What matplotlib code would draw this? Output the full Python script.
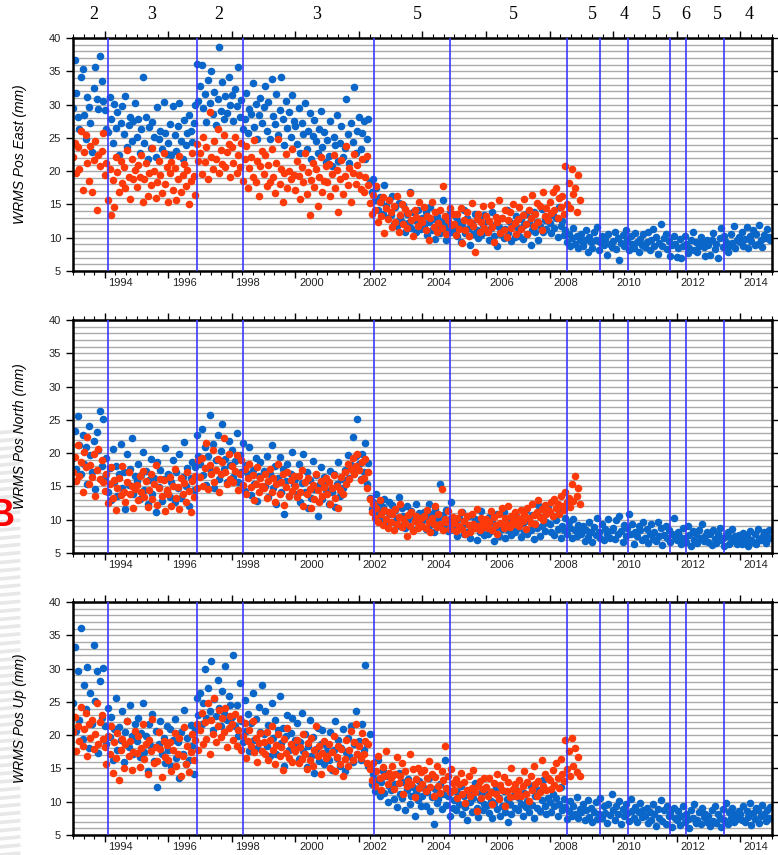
import numpy as np
import matplotlib
matplotlib.use("Agg")
import matplotlib.pyplot as plt
import matplotlib.transforms as mtransforms
from matplotlib.lines import Line2D

# one line per year (1993, 1994, ...), values in mm spread evenly across the year
EAST_BLUE = """
29.5 36.7 31.8 28.1 26.4 34.2 35.3 28.4 24.8 31.2 29.6 27.3 22.9 32.5 35.7 30.9 29.4 37.3 33.6 30.6
29.2 26.3 25.9 31.1 27.8 24.2 30.1 26.5 28.9 22.4 27.2 29.8 25.6 31.3 23.7 26.9 28.2 24.6 27.5 30.2
25.1 27.9 22.8 26.4 34.2 24.3 28.1 21.9 26.7 23.5 27.4 25.2 22.1 29.6 24.8 26.1 23.3 30.4 25.7 22.6
24.2 27.1 22.5 29.8 25.4 23.1 26.8 30.2 24.6 21.8 27.7 23.9 25.8 28.5 26.1 24.4 27.3 29.9 36.1 30.6
32.8 35.9 29.5 31.6 27.4 33.7 30.2 35.1 28.6 31.9 26.9 30.8 38.7 29.1 33.4 27.8 31.3 28.7 34.1 29.9
31.5 27.6 32.4 29.8 35.6 28.2 30.7 26.4 27.9 31.8 25.8 29.3 28.6 33.2 26.7 30.1 24.9 28.4 31.0 27.2
29.7 32.8 26.1 30.4 24.8 33.9 28.3 27.1 31.6 25.4 29.2 34.1 27.8 23.9 30.6 26.5 28.9 25.2 31.4 27.6
26.8 24.1 29.5 22.7 27.3 25.6 30.2 23.4 26.1 28.8 21.9 25.3 27.7 24.5 22.8 26.4 29.1 23.6 25.9 21.4
24.7 22.3 27.5 20.8 25.1 23.9 28.4 21.6 24.2 26.8 22.1 23.5 30.9 25.6 21.2 27.3 24.4 32.6 22.8 26.1
28.1 23.4 25.7 27.6 21.9 24.8 27.8 18.3 16.9 18.8 15.6 17.4 14.2 16.1 15.3 13.6 17.9 14.8 12.9 15.7
13.4 16.3 12.1 14.6 11.7 15.2 13.1 12.4 14.9 10.8 13.6 12.2 16.8 11.5 13.9 12.7 10.9 14.1 12.6 11.3
12.9 11.6 13.8 10.4 12.3 14.6 11.1 12.8 9.8 13.3 11.9 10.7 12.5 15.6 11.4 9.6 12.1 13.7 10.9 11.8
11.2 13.1 10.3 12.4 9.4 11.8 14.2 10.7 12.9 11.5 8.9 12.2 10.6 13.6 11.1 9.9 12.7 10.4 11.9 13.4
10.8 12.5 9.7 11.4 13.8 10.2 12.1 8.7 11.6 10.5 12.9 9.9 11.3 14.1 10.7 12.3 9.5 11.8 10.1 13.2
11.5 10.3 12.8 9.8 11.9 13.5 10.6 12.2 8.9 11.1 13.9 10.8 12.4 9.6 11.7 14.3 10.9 12.6 11.3 13.1
12.2 10.7 13.4 11.5 12.9 10.1 14.6 11.8 12.5 10.4 11.2 9.3 10.6 8.7 9.9 11.4 9.1 10.2 8.4 9.7
10.5 8.8 9.6 11.2 7.9 10.1 9.3 8.5 10.8 9.7 11.6 8.2 9.4 10.3 8.9 9.8 7.4 10.6 9.1 8.6
9.5 10.9 8.3 9.9 6.6 9.2 10.4 8.7 11.1 9.6 8.1 10.2 9.0 8.4 10.7 9.3 7.8 9.8 8.9 10.5
8.6 9.4 10.8 8.1 9.7 11.3 8.8 10.1 7.5 9.2 12.1 8.7 9.9 10.6 8.3 9.5 7.2 8.9 10.3 9.1
7.1 8.4 9.8 6.9 8.8 10.2 9.1 7.7 8.5 9.6 10.8 8.2 9.3 7.9 8.7 10.1 9.4 8.6 7.3 9.7
8.9 7.4 9.6 10.7 8.3 9.1 7.0 9.9 11.4 8.6 10.2 9.4 7.8 8.8 10.6 9.2 11.8 8.5 9.7 10.1
9.3 10.9 8.7 9.8 11.6 8.4 10.3 9.5 11.2 8.9 10.6 9.1 11.9 9.7 8.6 10.4 9.9 11.3 10.1 9.6
"""

EAST_RED = """
22.1 24.3 19.8 23.6 20.4 26.1 17.2 22.9 25.4 21.3 18.6 23.8 16.9 21.7 24.6 14.2 22.4 20.8 23.1 25.7
19.4 21.2 15.6 20.3 13.4 18.7 14.6 22.1 19.9 16.8 21.5 18.2 20.6 17.4 23.2 19.1 15.8 21.8 18.9 20.2
17.6 20.9 19.2 22.4 15.4 18.8 21.3 16.3 19.7 17.9 23.5 20.1 15.9 18.4 21.6 19.5 16.7 22.8 18.1 20.7
15.3 19.8 21.4 17.2 20.5 15.6 18.9 22.3 16.8 19.4 21.1 17.7 20.2 15.1 18.5 22.7 19.3 16.4 24.1 21.5
22.8 19.6 25.2 21.4 23.7 18.9 28.9 22.1 20.3 24.6 21.8 26.3 19.7 23.2 21.1 25.4 20.6 22.9 24.1 19.2
23.6 21.3 25.1 19.8 22.4 20.7 24.3 18.6 21.9 23.8 17.4 20.5 22.2 19.1 24.7 18.3 21.6 16.2 20.8 23.1
19.6 22.5 17.8 20.9 18.4 23.4 19.2 16.7 21.3 24.8 18.1 20.4 15.3 19.7 22.6 17.5 20.1 18.9 23.3 19.4
17.2 21.5 19.3 15.8 20.6 18.4 22.8 16.5 19.9 13.4 18.7 21.2 17.6 20.3 14.7 19.1 22.1 16.9 18.5 20.8
18.3 21.1 16.2 19.6 22.4 17.5 20.2 13.8 18.9 21.7 16.6 19.3 23.8 17.9 20.5 15.4 19.8 22.6 18.1 20.9
19.5 17.3 21.9 16.8 19.1 22.3 17.9 15.2 13.6 16.4 14.1 17.8 12.4 15.3 13.2 16.1 10.7 14.5 12.8 15.6
13.9 11.6 14.8 12.3 16.2 10.9 13.4 15.1 12.1 14.3 11.4 13.7 16.7 12.6 10.3 14.2 13.1 11.8 15.4 12.7
12.4 14.6 11.2 13.3 9.7 12.9 15.3 11.6 13.8 10.8 12.2 14.1 11.5 17.8 13.2 10.6 12.7 14.4 11.9 13.5
12.1 10.4 13.6 11.3 14.5 9.2 12.7 11.1 13.9 10.2 12.4 15.2 11.7 7.9 12.8 13.6 10.9 12.3 14.7 11.4
13.2 10.8 12.5 14.9 11.6 9.4 13.1 12.3 15.6 10.7 12.9 11.2 14.2 10.1 12.6 13.8 11.4 15.1 12.2 10.5
12.8 14.6 11.3 13.4 15.8 12.1 10.6 14.1 12.9 16.4 11.7 13.6 15.2 12.4 14.8 11.1 16.9 13.3 14.5 12.6
15.3 13.7 16.8 14.2 17.4 12.9 15.9 14.6 16.3 13.5 20.8 15.1 18.2 14.4 20.3 16.6 17.5 13.8 19.4 15.7
"""

NORTH_BLUE = """
19.2 23.4 17.6 25.6 21.3 16.8 22.7 18.4 20.9 15.3 24.1 19.7 17.2 21.8 14.6 23.2 20.4 26.3 18.1 25.1
16.4 19.3 14.2 17.8 12.9 20.6 15.7 18.1 13.6 16.9 21.4 14.8 17.2 11.6 19.8 15.2 17.6 22.3 13.9 16.5
15.8 18.4 13.1 16.7 20.2 14.5 17.3 12.4 15.9 19.1 13.8 16.2 11.1 18.7 14.9 17.5 12.8 16.1 20.8 14.3
16.9 13.4 15.6 18.9 12.6 17.1 14.7 19.8 13.2 16.4 21.7 15.1 17.8 12.1 16.3 18.6 14.4 17.9 22.8 19.6
18.4 23.6 16.7 20.9 15.2 19.5 25.8 17.3 21.4 14.8 18.9 22.7 16.1 20.3 24.4 17.6 19.1 15.7 21.9 18.2
20.5 16.4 18.8 23.1 15.6 19.7 17.1 21.6 14.3 18.2 16.8 20.9 13.7 17.5 15.4 19.3 12.8 16.6 18.7 14.9
17.3 15.1 19.6 13.4 16.8 21.2 14.7 18.1 12.3 16.2 19.4 14.1 17.6 10.9 15.8 18.3 13.6 16.9 20.1 15.4
16.1 13.8 18.4 12.7 15.5 19.8 14.2 17.1 11.8 15.9 13.3 18.8 14.6 16.7 10.6 15.2 17.9 13.1 16.4 14.5
15.6 12.4 17.3 14.1 16.8 11.9 15.3 18.6 13.5 16.1 14.8 17.4 15.9 19.7 16.3 18.2 22.4 17.1 19.5 25.2
18.3 16.1 19.8 17.2 21.6 15.4 18.5 13.2 11.6 12.7 10.8 13.9 11.4 12.3 10.2 11.9 13.1 9.8 11.2 12.6
10.9 12.2 9.6 11.5 10.3 13.4 9.1 11.8 10.6 8.7 12.1 9.9 10.8 11.3 8.4 10.1 12.4 9.5 11.0 10.4
9.8 11.1 8.6 10.5 12.3 9.2 10.9 8.1 11.6 9.7 10.2 15.3 8.9 10.7 9.4 11.4 8.3 10.1 12.6 9.0
8.5 9.7 7.6 10.3 8.9 11.2 7.9 9.4 8.2 10.6 7.3 9.1 8.7 10.1 6.9 9.6 8.1 11.3 8.8 7.7
9.2 7.8 10.4 8.3 9.7 6.8 8.9 10.8 7.5 9.3 8.6 11.1 7.2 9.9 8.4 10.2 7.7 9.0 8.1 10.6
8.7 10.1 7.4 9.5 8.2 11.4 7.9 9.8 8.5 10.7 7.1 9.3 8.8 12.2 7.6 9.1 10.4 8.3 9.6 11.7
9.4 8.1 10.6 7.7 9.9 8.6 11.2 7.3 9.1 8.4 10.3 7.9 9.6 8.8 7.2 10.1 8.5 7.6 9.2 8.1
7.9 9.1 6.8 8.5 7.4 9.7 8.2 6.6 8.9 7.7 10.3 8.1 7.2 9.4 6.9 8.6 7.8 10.1 7.3 8.4
8.8 7.1 9.9 7.8 10.6 8.3 6.7 9.2 7.5 8.7 10.8 7.9 9.4 6.4 8.2 7.6 9.1 8.5 7.0 9.7
7.3 8.6 6.5 7.9 9.3 7.1 8.2 6.8 9.6 7.5 8.8 6.2 7.7 9.1 7.2 8.4 6.6 7.8 10.2 7.4
6.9 8.1 7.4 6.3 8.7 7.2 6.6 9.1 7.7 6.1 8.3 7.0 7.9 6.5 8.5 7.3 9.4 6.8 7.6 8.2
6.7 7.8 6.2 8.4 7.1 6.5 7.9 8.8 6.9 7.3 6.0 7.6 8.1 6.4 7.2 8.6 6.8 7.5 6.3 7.7
7.2 6.4 8.0 6.8 7.5 6.1 8.3 7.0 6.6 7.8 6.3 8.6 7.1 6.9 7.4 8.2 6.5 7.6 8.4 7.3
"""

NORTH_RED = """
17.2 19.4 15.8 21.3 16.6 18.7 14.2 20.1 17.9 22.4 15.3 18.2 16.4 19.8 13.6 17.5 20.6 16.1 18.9 15.7
14.3 16.8 12.5 15.4 17.9 13.2 15.9 11.4 14.8 16.3 13.7 18.1 14.1 12.6 15.6 17.2 13.9 15.1 11.8 14.6
15.2 12.9 16.6 14.1 17.3 13.4 15.8 11.9 14.5 16.9 13.1 15.4 18.2 12.2 14.7 16.1 13.6 15.9 11.3 14.4
13.8 16.4 12.1 15.1 17.6 13.3 14.9 11.6 16.2 13.9 15.5 12.6 17.1 14.3 11.1 15.8 13.4 16.6 14.7 18.9
16.4 19.3 15.1 17.8 21.6 14.6 18.2 16.9 20.4 15.7 17.4 19.1 14.2 16.8 18.6 22.3 17.2 15.3 19.8 16.1
18.1 15.6 17.3 19.7 14.4 16.8 18.9 15.2 17.6 13.8 16.2 18.4 14.9 16.7 12.9 15.4 17.9 14.1 16.3 15.1
14.7 16.9 13.2 15.8 17.6 14.1 16.2 12.6 15.3 18.3 13.9 15.6 16.8 12.2 14.9 17.1 13.5 15.9 14.3 16.5
15.1 13.4 16.6 14.2 17.4 12.1 15.7 13.8 16.3 14.6 11.8 15.2 13.1 16.9 14.4 12.7 15.8 13.6 14.9 16.2
13.9 15.6 12.4 14.8 16.7 13.3 15.1 11.7 14.5 16.4 13.8 17.2 15.3 18.4 16.1 17.6 19.3 16.8 18.1 19.8
17.4 15.9 18.7 16.3 19.1 14.8 17.2 13.1 11.2 12.4 10.3 11.8 9.6 12.9 10.8 9.2 11.5 10.1 8.7 11.1
9.7 10.9 8.4 11.6 9.3 10.4 12.3 8.9 10.1 9.5 7.6 10.7 9.1 11.2 8.3 9.8 10.6 8.8 9.4 10.2
9.1 10.6 8.7 11.4 9.6 8.2 10.3 9.4 12.1 8.9 10.8 9.3 14.6 8.4 10.1 9.7 11.3 8.6 9.9 10.4
9.5 8.3 10.2 9.0 11.1 8.6 9.8 7.8 10.6 9.2 8.1 10.9 9.4 8.7 11.6 9.1 8.4 10.3 9.7 8.9
10.1 8.8 9.6 11.3 8.5 10.4 9.2 7.9 10.8 9.5 11.7 8.7 10.2 9.4 12.1 8.9 10.6 9.8 11.2 9.3
10.3 9.1 11.5 9.8 10.9 8.6 11.8 10.2 9.5 12.4 10.7 9.3 11.1 12.9 10.4 11.6 9.9 12.2 10.8 11.4
11.2 12.6 10.5 13.1 11.8 12.3 10.9 13.6 12.1 11.4 14.2 12.7 13.3 11.9 15.4 12.8 16.6 13.5 14.8 12.4
"""

UP_BLUE = """
24.8 33.2 20.6 29.7 22.3 36.1 19.4 27.5 23.9 30.2 18.1 26.4 21.7 33.6 25.2 29.6 17.3 28.1 22.6 30.1
21.4 18.6 24.1 19.7 22.8 16.3 20.9 25.6 17.8 21.2 19.3 23.7 15.9 20.4 22.1 18.2 24.6 19.8 17.1 21.6
19.1 22.6 16.7 20.3 24.9 17.5 19.8 14.6 21.7 18.3 23.2 16.1 20.6 12.2 18.7 22.1 17.2 19.5 15.8 21.3
17.8 20.9 15.3 19.2 22.4 16.6 18.9 13.6 20.4 17.1 23.8 15.7 19.6 16.2 21.5 18.4 14.1 20.7 25.6 23.1
26.3 21.7 24.8 29.9 22.5 27.1 23.6 31.2 20.8 25.4 22.9 28.3 24.1 21.3 26.7 23.4 30.4 22.2 25.9 24.5
22.7 32.1 21.4 24.6 19.8 27.8 22.1 18.9 25.3 20.6 23.2 17.6 21.8 26.4 19.3 22.4 18.1 24.2 20.5 27.6
20.1 23.7 18.4 21.5 16.9 24.8 19.6 22.3 17.2 20.7 25.9 18.8 21.1 15.4 19.9 23.1 17.8 20.3 22.6 18.5
19.2 21.8 16.4 18.9 23.4 17.6 20.1 15.2 18.4 22.2 16.8 19.7 14.3 17.9 21.1 16.1 18.6 20.8 15.7 17.4
18.3 16.2 20.4 14.8 17.7 22.1 16.5 19.2 15.3 18.1 20.9 14.6 17.4 19.6 16.8 21.3 15.9 18.7 23.6 17.2
19.1 16.3 21.7 17.8 30.5 18.6 15.4 20.1 12.7 14.1 11.6 13.3 16.2 10.8 12.9 14.6 11.3 13.8 9.9 12.4
11.7 13.9 10.4 12.6 9.2 14.3 11.1 10.6 12.9 8.8 11.8 13.4 9.7 10.9 12.2 7.9 11.4 10.2 13.1 9.4
10.8 12.1 9.3 11.4 13.6 8.6 10.7 6.6 11.9 9.8 10.4 12.7 8.9 11.2 16.3 9.5 10.9 7.8 11.6 9.1
10.3 8.7 11.5 9.6 12.4 8.1 10.8 9.2 7.3 11.1 9.9 8.4 10.6 12.8 9.0 7.7 10.2 11.3 8.8 9.7
9.4 11.2 8.3 10.1 7.5 9.8 12.1 8.9 10.6 7.9 9.3 11.6 8.5 10.4 6.9 9.7 8.2 10.9 9.1 11.8
8.8 10.5 9.6 7.8 11.3 9.2 10.1 8.4 12.4 9.5 7.6 10.8 9.1 11.7 8.6 10.3 13.2 9.4 8.1 10.6
9.9 8.5 11.1 9.3 10.6 7.9 9.7 12.2 8.8 10.4 9.2 7.4 8.6 10.1 7.8 9.4 8.2 10.7 7.5 8.9
8.4 9.6 7.2 8.8 10.3 7.7 9.1 6.9 8.5 9.9 7.4 8.1 10.6 7.6 9.3 8.3 6.8 9.7 8.0 11.2
8.7 7.3 9.4 8.1 10.1 6.6 8.9 7.8 9.6 8.3 7.1 10.4 8.6 7.5 9.2 6.9 8.4 9.8 7.7 8.8
7.9 9.1 6.8 8.5 7.3 9.7 8.2 6.4 8.9 7.6 10.2 7.1 8.7 6.7 9.4 7.8 8.3 6.2 9.0 7.5
7.2 8.6 6.5 7.9 9.3 6.9 8.1 7.4 6.1 8.8 7.6 9.7 6.8 7.3 8.4 6.6 9.1 7.7 8.2 6.9
7.8 6.4 8.7 7.1 9.4 6.8 8.2 7.5 6.2 8.9 7.3 9.8 6.7 8.4 7.6 9.1 6.9 8.1 7.4 8.6
8.1 7.2 9.3 6.9 8.6 7.7 9.8 6.5 8.3 7.4 9.1 8.7 6.8 7.9 9.5 8.2 7.1 8.8 7.6 9.2
"""

UP_RED = """
20.4 22.8 17.6 21.3 19.1 24.2 18.3 20.9 23.4 16.8 21.7 19.6 22.3 17.9 20.2 24.8 18.7 21.9 23.1 19.4
18.2 15.6 19.8 17.1 21.4 14.3 18.9 16.5 20.3 13.2 17.7 19.4 15.1 18.6 22.1 16.9 19.1 14.8 17.4 20.6
17.3 19.8 15.2 18.1 21.6 16.4 18.7 14.1 19.3 17.6 22.4 15.8 18.2 16.1 20.4 17.9 13.7 19.1 16.7 18.5
16.2 18.9 14.6 17.7 20.3 15.4 17.1 19.6 13.9 16.8 21.2 15.7 18.3 14.4 17.5 20.1 16.3 19.2 21.6 17.8
20.7 23.4 18.6 21.9 19.4 24.8 17.2 22.3 20.1 25.6 18.9 21.4 23.8 19.7 22.6 20.4 24.1 18.2 21.1 22.9
21.6 19.3 23.2 18.4 20.8 22.4 17.7 19.9 21.8 16.6 19.1 20.7 18.3 22.1 17.4 19.6 15.9 18.8 20.3 17.6
18.9 17.1 20.4 16.3 19.2 21.3 17.8 15.6 18.5 20.1 16.9 18.2 14.8 19.4 17.3 21.1 16.6 18.7 15.9 17.9
17.6 19.3 15.8 18.2 16.4 20.2 17.1 14.9 18.8 16.2 19.6 15.3 17.7 21.4 16.8 18.4 14.2 17.3 19.1 16.5
16.9 18.6 15.1 17.4 19.8 14.6 16.7 18.3 15.6 17.9 13.8 16.4 19.2 15.3 17.8 20.6 16.2 18.9 21.7 17.1
18.4 16.6 20.3 17.2 19.1 15.8 18.7 14.9 13.2 15.8 12.4 14.6 16.9 13.5 11.8 15.2 13.9 17.6 12.7 14.3
13.6 15.4 11.9 14.2 16.7 12.8 13.9 15.8 11.2 14.6 12.3 13.1 17.2 12.6 14.9 10.7 13.4 15.1 12.1 14.4
12.7 14.8 11.6 13.5 16.1 12.2 14.1 10.9 13.7 15.4 12.4 11.3 14.6 13.2 18.3 12.1 13.8 11.4 14.9 12.8
11.8 13.4 10.6 12.6 14.3 11.2 12.9 9.8 11.7 13.8 10.9 12.1 14.7 11.4 8.6 12.4 13.1 10.5 11.9 13.6
12.2 10.8 13.5 11.4 9.7 12.8 11.1 14.2 10.4 12.5 11.8 13.7 9.3 11.6 12.9 10.7 15.1 11.9 12.6 10.9
11.6 13.3 10.8 12.4 14.6 11.2 12.9 10.1 13.8 11.7 15.4 12.6 10.9 13.1 11.4 16.2 12.3 14.1 11.8 13.6
13.2 11.9 14.7 12.5 15.8 13.6 12.1 16.4 14.2 13.1 19.2 14.9 17.6 13.8 19.6 15.3 18.1 14.4 16.7 13.9
"""

FIRST_YEAR = 1993
PANELS = ["East", "North", "Up"]
BREAKS = [1994.09, 1996.89, 1998.34, 2002.47, 2004.87, 2008.56,
          2009.58, 2010.46, 2011.80, 2012.29, 2013.50]
SEG_LABELS = ["2", "3", "2", "3", "5", "5", "5", "4", "5", "6", "5", "4"]
SEG_LABEL_POS = [1993.64, 1995.46, 1997.60, 2000.66, 2003.83, 2006.85,
                 2009.35, 2010.34, 2011.37, 2012.29, 2013.29, 2014.29]

BLUE = "#0a66c8"
RED = "#ff3a0a"


def parse(block):
    ts, vs = [], []
    for i, line in enumerate(block.strip().splitlines()):
        vals = [float(v) for v in line.split()]
        n = len(vals)
        ts += [FIRST_YEAR + i + k / n for k in range(n)]
        vs += vals
    return np.array(ts), np.array(vs)


series = {
    "East": (parse(EAST_BLUE), parse(EAST_RED)),
    "North": (parse(NORTH_BLUE), parse(NORTH_RED)),
    "Up": (parse(UP_BLUE), parse(UP_RED)),
}

plt.rcParams['font.family'] = ['Liberation Sans', 'DejaVu Sans']

fig = plt.figure(figsize=(7.78, 8.55), dpi=100)

# slide background stripes on the left edge + cropped red "B"
for yy in np.arange(0.0, 0.50, 0.0095):
    fig.add_artist(Line2D([0, 0.024], [yy, yy + 0.002], color='#e8e8e8',
                          lw=2.6, transform=fig.transFigure, zorder=0))
fig.text(0.0185, 0.3965, "B", color='#ff0000', fontsize=27, fontweight='bold',
         ha='right', va='center')

bottoms = [0.6830, 0.3532, 0.0234]
axes = []
for name, b in zip(PANELS, bottoms):
    ax = fig.add_axes([0.0938, b, 0.8985, 0.2725])
    axes.append(ax)
    (tb, vb), (tr, vr) = series[name]
    ax.scatter(tb, vb, s=30, color=BLUE, linewidths=0, zorder=2)
    ax.scatter(tr, vr, s=30, color=RED, linewidths=0, zorder=2.1)
    for v in BREAKS:
        ax.axvline(v, color='#3a3aff', lw=1.2, zorder=3)

    ax.set_xlim(1993, 2015)
    ax.set_ylim(5, 40)
    ax.set_yticks(range(5, 41, 5))
    ax.set_yticks(range(5, 41), minor=True)
    ax.grid(True, axis='y', which='both', color='#ababab', lw=1.0, zorder=0)
    ax.set_axisbelow(True)
    ax.set_xticks(range(1994, 2015, 2))
    ax.set_xticks(np.arange(1993, 2015.01, 1 / 3), minor=True)
    ax.tick_params(axis='x', which='both', top=True, bottom=True,
                   direction='out', labelbottom=False)
    ax.tick_params(axis='x', which='major', length=5, width=1.0)
    ax.tick_params(axis='x', which='minor', length=3, width=0.8)
    ax.tick_params(axis='y', which='major', left=True, right=True,
                   direction='out', length=5, width=1.0, labelsize=8,
                   labelcolor='#222222')
    ax.tick_params(axis='y', which='minor', length=0)
    for s in ax.spines.values():
        s.set_linewidth(1.8)

    trans = mtransforms.blended_transform_factory(ax.transData, ax.transAxes)
    for yr in range(1994, 2015, 2):
        ax.text(yr + 0.5, -0.052, str(yr), transform=trans, ha='center',
                va='center', fontsize=8, color='#222222')

    ax.set_ylabel("WRMS Pos %s (mm)" % name, fontsize=10, style='italic')
    ax.yaxis.set_label_coords(-0.066, 0.5)

top_trans = mtransforms.blended_transform_factory(axes[0].transData,
                                                  axes[0].transAxes)
for lab, pos in zip(SEG_LABELS, SEG_LABEL_POS):
    axes[0].text(pos, 1.103, lab, transform=top_trans, ha='center',
                 va='center', fontsize=13, family='Liberation Serif')

fig.savefig("out.png", dpi=100)
